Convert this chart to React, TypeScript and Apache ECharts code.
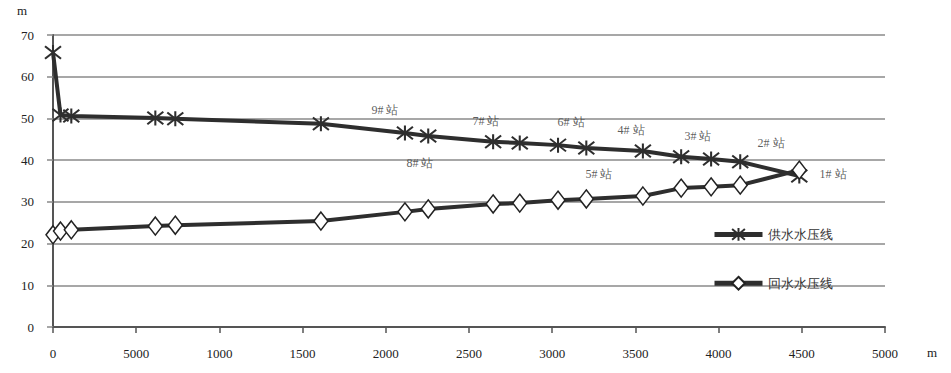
import React, { useEffect, useRef } from "react";
import * as echarts from "echarts";

// distance along pipe (m)
const distances = [0, 45, 110, 615, 735, 1610, 2115, 2255, 2645, 2805, 3035, 3205, 3545, 3775, 3955, 4130, 4485];
// supply water pressure line (m)
const supplyPressure = [65.8, 50.8, 50.6, 50.1, 49.9, 48.7, 46.5, 45.8, 44.4, 44.1, 43.6, 42.9, 42.2, 40.8, 40.3, 39.6, 36.2];
// return water pressure line (m)
const returnPressure = [22.1, 23.0, 23.3, 24.2, 24.4, 25.4, 27.6, 28.3, 29.5, 29.7, 30.4, 30.7, 31.4, 33.3, 33.6, 34.0, 37.6];

const seriesNames = ["供水水压线", "回水水压线"];

// station annotations (placed in data units)
const stationNames = ["9# 站", "8# 站", "7# 站", "6# 站", "5# 站", "4# 站", "3# 站", "2# 站", "1# 站"];
const stationX = [1995, 2205, 2602, 3113, 3281, 3474, 3876, 4315, 4688];
const stationY = [52.0, 39.3, 49.4, 49.2, 36.7, 47.2, 45.8, 44.2, 36.7];

// x tick labels as printed on the original (note "5000" at 500)
const xTickLabels = ["0", "5000", "1000", "1500", "2000", "2500", "3000", "3500", "4000", "4500", "5000"];

const FONT = "Liberation Serif";
const LINE = "#2e2e2e";

export default function App() {
  const ref = useRef<HTMLDivElement>(null);
  useEffect(() => {
    if (!ref.current) return;
    const chart = echarts.init(ref.current, undefined, { renderer: "svg" });
    const asterisk = "path://M1,1L11,11M11,1L1,11M6,0L6,12";
    chart.setOption({
      animation: false,
      backgroundColor: "#fff",
      textStyle: { fontFamily: FONT },
      grid: { left: 53, right: 66, top: 35, bottom: 46 },
      xAxis: {
        type: "value",
        min: 0,
        max: 5000,
        interval: 500,
        axisLine: { show: true, lineStyle: { color: "#555", width: 2 } },
        axisTick: { show: true, length: 6, lineStyle: { color: "#555", width: 1.5 } },
        axisLabel: {
          margin: 20,
          fontFamily: FONT,
          fontSize: 13,
          color: "#222",
          formatter: (v: number) => xTickLabels[Math.round(v / 500)] ?? String(v),
        },
        splitLine: { show: false },
      },
      yAxis: {
        type: "value",
        min: 0,
        max: 70,
        interval: 10,
        axisLine: { show: true, lineStyle: { color: "#555", width: 2 } },
        axisTick: { show: true, length: 6, lineStyle: { color: "#888", width: 1.5 } },
        axisLabel: { margin: 19, fontFamily: FONT, fontSize: 13, color: "#222" },
        splitLine: { show: true, lineStyle: { color: "#8a8a8a", width: 1.5 } },
      },
      legend: {
        data: seriesNames,
        orient: "vertical",
        left: 707,
        top: 222,
        itemWidth: 48,
        itemHeight: 16,
        itemGap: 34,
        lineStyle: { width: 5 },
        textStyle: { fontFamily: FONT, fontSize: 13, color: "#333" },
      },
      graphic: [
        { type: "text", left: 17, top: 4, style: { text: "m", font: `13px ${FONT}`, fill: "#222" } },
        { type: "text", left: 927, top: 346, style: { text: "m", font: `13px ${FONT}`, fill: "#222" } },
      ],
      series: [
        {
          name: seriesNames[0],
          type: "line",
          data: distances.map((d, i) => [d, supplyPressure[i]]),
          symbol: asterisk,
          symbolSize: [16, 15],
          lineStyle: { color: LINE, width: 4 },
          itemStyle: { color: LINE, borderColor: LINE, borderWidth: 2 },
          z: 3,
        },
        {
          name: seriesNames[1],
          type: "line",
          data: distances.map((d, i) => [d, returnPressure[i]]),
          symbol: "diamond",
          symbolSize: [14, 18],
          lineStyle: { color: LINE, width: 4 },
          itemStyle: { color: "#fff", borderColor: "#222", borderWidth: 1.5 },
          z: 3,
        },
        {
          name: "stations",
          type: "scatter",
          data: stationNames.map((n, i) => ({ name: n, value: [stationX[i], stationY[i]] })),
          symbol: "circle",
          symbolSize: 1,
          itemStyle: { color: "transparent" },
          label: {
            show: true,
            position: "inside",
            formatter: "{b}",
            fontFamily: FONT,
            fontSize: 12,
            color: "#333",
          },
          silent: true,
          z: 4,
        },
      ],
    });
    return () => chart.dispose();
  }, []);
  return (
    <div
      ref={ref}
      style={{ position: "fixed", left: 0, top: 0, width: 951, height: 373, background: "#fff" }}
    />
  );
}
